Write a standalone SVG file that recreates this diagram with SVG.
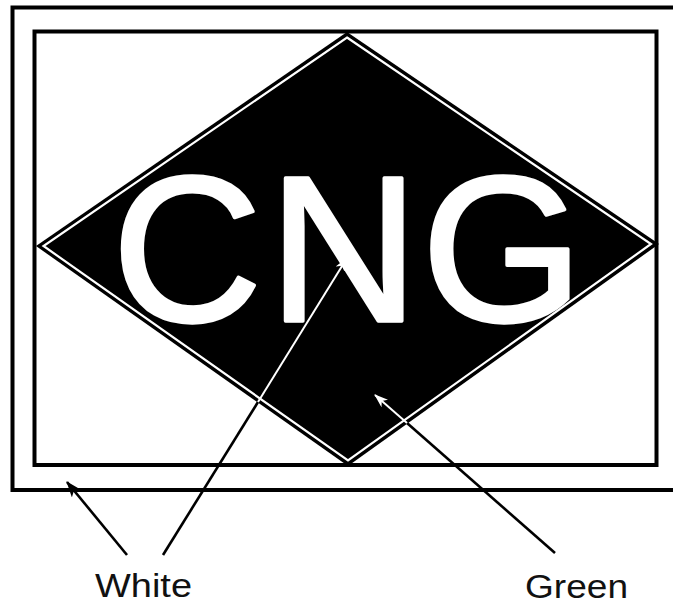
<svg xmlns="http://www.w3.org/2000/svg" width="673" height="605" viewBox="0 0 673 605">
<style>
.frame{fill:none;stroke:#000;stroke-width:4}
.lbl{font-family:"Liberation Sans",Arial,sans-serif;font-size:34px;fill:#111}
.big{font-family:"Liberation Sans",Arial,sans-serif;font-size:208px;fill:#fff;stroke:#fff;stroke-width:3.5;stroke-linejoin:round}
.blk{stroke:#000;stroke-width:2.6;fill:none}
.wht{stroke:#fff;stroke-width:2;fill:none}
</style>
<defs>
<marker id="ab" viewBox="0 0 16 12" refX="15" refY="6" markerWidth="16" markerHeight="12" markerUnits="userSpaceOnUse" orient="auto">
<path d="M0,0 L16,6 L0,12 L4,6 Z" fill="#000"/>
</marker>
<marker id="aw" viewBox="0 0 14 10" refX="13" refY="5" markerWidth="14" markerHeight="10" markerUnits="userSpaceOnUse" orient="auto">
<path d="M0,0 L14,5 L0,10 L4,5 Z" fill="#fff"/>
</marker>
</defs>
<rect width="673" height="605" fill="#fff"/>
<g id="outer-frame">
<path class="frame" d="M690,7.5 H12.5 V490 H690"/>
</g>
<g id="inner-frame">
<rect class="frame" x="34.5" y="31.5" width="622" height="433.5"/>
</g>
<g id="diamond">
<polygon points="347,32 659,244 348,466 36,246" fill="#000"/>
<polygon points="347,37.5 651,244 348,460.5 43.5,246" fill="none" stroke="#fff" stroke-width="2.2"/>
<text class="big" y="321" x="187 343.5 502.5" text-anchor="middle">CNG</text>
</g>
<g id="connectors">
<line class="blk" x1="127" y1="555" x2="67" y2="482" marker-end="url(#ab)"/>
<line class="blk" x1="163" y1="555" x2="258" y2="402"/>
<line class="wht" x1="258" y1="402" x2="347" y2="258" marker-end="url(#aw)"/>
<line class="blk" x1="555" y1="553" x2="407" y2="423"/>
<line class="wht" x1="407" y1="423" x2="375" y2="395" marker-end="url(#aw)"/>
</g>
<g id="label-white">
<text class="lbl" x="95" y="597" textLength="97" lengthAdjust="spacingAndGlyphs">White</text>
</g>
<g id="label-green">
<text class="lbl" x="525" y="598" textLength="103" lengthAdjust="spacingAndGlyphs">Green</text>
</g>
</svg>
